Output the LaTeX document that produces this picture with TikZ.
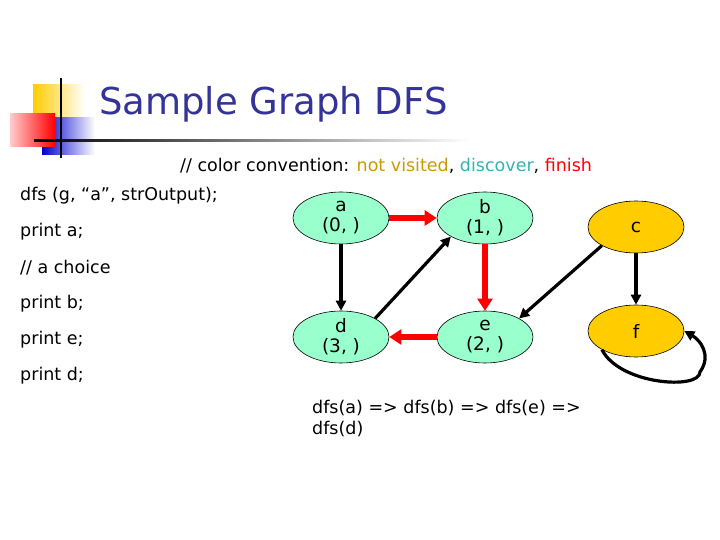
\documentclass[tikz,border=0pt]{standalone}
\usepackage{fontspec}
\setmainfont{DejaVu Sans}
\usetikzlibrary{shapes.geometric,arrows.meta}
\definecolor{navy}{RGB}{51,51,153}
\definecolor{mint}{RGB}{153,255,204}
\definecolor{gold}{RGB}{255,204,0}
\definecolor{olive}{RGB}{204,153,0}
\definecolor{teal2}{RGB}{51,180,180}
\begin{document}
\begin{tikzpicture}[x=1pt,y=-1pt,
  vert/.style={ellipse,draw=black,line width=0.6pt,minimum width=96pt,minimum height=52pt,inner sep=0pt,align=center,font=\fontsize{18.5}{20}\selectfont},
  gr/.style={vert,fill=mint},
  yl/.style={vert,fill=gold},
  blk/.style={-{Triangle[length=10pt,width=10pt]},line width=3.2pt,black},
  redarr/.style={-{Triangle[length=12pt,width=15pt]},line width=5.5pt,red},
  txt/.style={anchor=west,font=\fontsize{17.5}{21}\selectfont,inner sep=0pt}]
\useasboundingbox (0,0) rectangle (720,540);
% logo
\fill[left color=gold,right color=white] (33,85) rectangle (85,118);
\fill[left color=blue!80!black,right color=white] (42,118) rectangle (95,155);
\fill[left color=red!20,right color=red] (10,114) rectangle (55,147);
\draw[line width=2pt] (61,78) -- (61,158);
\shade[left color=black,right color=white] (34,140) rectangle (470,142);
\node[anchor=west,inner sep=0pt,text=navy,font=\fontsize{37}{40}\selectfont] (title) at (99,104) {Sample Graph DFS};
\node[txt] (conv) at (180,166) {// color convention: \textcolor{olive}{not visited}, \textcolor{teal2}{discover}, \textcolor{red}{finish}};
\node[txt] (l1) at (20,196) {dfs (g, “a”, strOutput);};
\node[txt] (l2) at (20,232) {print a;};
\node[txt] (l3) at (20,268) {// a choice};
\node[txt] (l4) at (20,304) {print b;};
\node[txt] (l5) at (20,340) {print e;};
\node[txt] (l6) at (20,376) {print d;};
\node[txt,align=left] (res) at (312,419) {dfs(a) => dfs(b) => dfs(e) =>\\dfs(d)};
% graph
\node[gr] (a) at (341,218) {a\\(0, )};
\node[gr] (b) at (485,218) {b\\(1, )};
\node[yl] (c) at (636,227) {c};
\node[gr] (d) at (341,337) {d\\(3, )};
\node[gr] (e) at (485,337) {e\\(2, )};
\node[yl] (f) at (636,331) {f};
\coordinate (lp) at (700,372);
\draw[redarr] (a) -- (b);
\draw[redarr] (b) -- (e);
\draw[redarr] (e) -- (d);
\draw[blk] (a) -- (d);
\draw[blk] (d.north east) -- (b.south west);
\draw[blk] (c.south west) -- (e.north east);
\draw[blk] (c) -- (f);
\draw[blk] (f.south west) .. controls (620,385) and (700,390) .. (lp) .. controls (712,355) and (700,340) .. (f.east);
\end{tikzpicture}
\end{document}
